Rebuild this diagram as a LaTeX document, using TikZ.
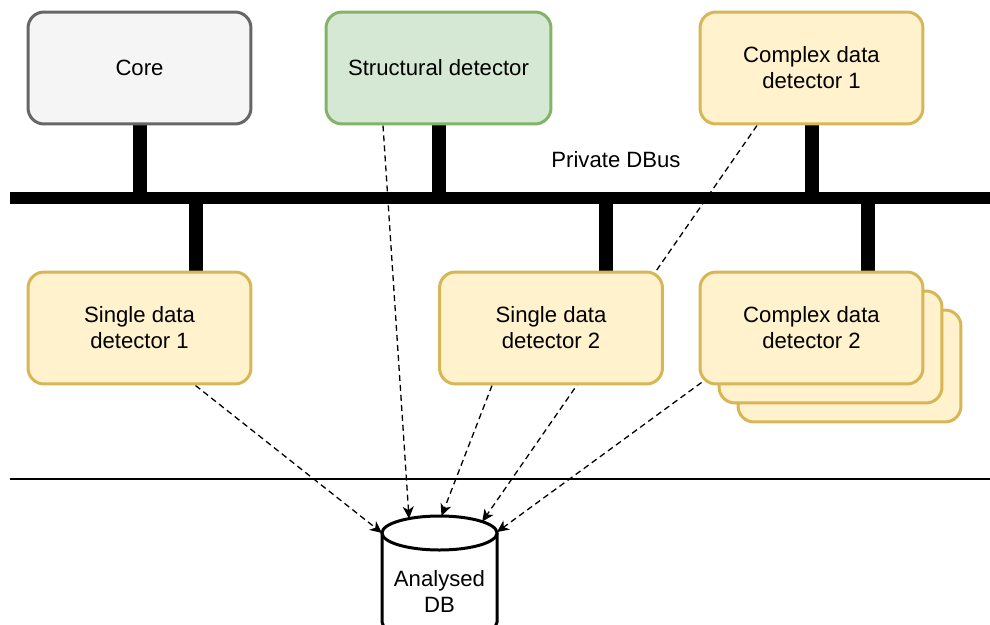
\documentclass[tikz,border=0pt]{standalone}
\usepackage{fontspec}
\setmainfont{Liberation Sans}
\usepackage{tikz}
\usetikzlibrary{positioning}
\usetikzlibrary{arrows.meta}
\usetikzlibrary{backgrounds}
\definecolor{coreFill}{HTML}{F5F5F5}
\definecolor{coreLine}{HTML}{666666}
\definecolor{structFill}{HTML}{D5E8D4}
\definecolor{structLine}{HTML}{82B366}
\definecolor{detFill}{HTML}{FFF2CC}
\definecolor{detLine}{HTML}{D6B656}
\tikzset{
    detector diagram/.style={
            x=0.02cm,y=0.02cm,
            font=\fontsize{12.6}{14.8}\selectfont,
            box/.style={rounded corners=0.32cm,line width=0.06cm,minimum width=4.46cm,minimum height=2.24cm,align=center},
            core box/.style={box,draw=coreLine,fill=coreFill},
            struct box/.style={box,draw=structLine,fill=structFill,minimum width=4.5cm},
            det box/.style={box,draw=detLine,fill=detFill},
            bus/.style={line width=0.26cm},
            tap/.style={line width=0.28cm},
            divider/.style={line width=0.03cm},
            flow/.style={-{Stealth[length=0.24cm,width=0.22cm,inset=0.07cm]},line width=0.026cm,dash pattern=on 0.12cm off 0.08cm},
            dbline/.style={line width=0.06cm,fill=white},
            dbtext/.style={align=center}
        }
    }

\begin{document}
\begin{tikzpicture}[detector diagram]
    \useasboundingbox (0,0) rectangle (990,-625);

    % detectors above the bus
    \node [core box] (core) at (139.5,-68) {Core};
    \node [struct box] (struct) at (438.5,-68) {Structural detector};
    \node [det box] (cdd1) at (811.5,-68) {Complex data\\detector 1};

    % detectors below the bus
    \node [det box] (sdd1) at (139.5,-328) {Single data\\detector 1};
    \node [det box] (sdd2) at (551,-328) {Single data\\detector 2};
    \node [det box] (cdd2c) at (849.5,-366) {};
    \node [det box] (cdd2b) at (830.5,-347) {};
    \node [det box] (cdd2) at (811.5,-328) {Complex data\\detector 2};

    \node (buslabel) at (616,-160) {Private DBus};

    \coordinate (busW) at (10,-198);
    \coordinate (busE) at (990,-198);
    \coordinate (divW) at (10,-479);
    \coordinate (divE) at (990,-479);
    \coordinate (sdd1up) at ([shift={(56,0)}]sdd1.north);
    \coordinate (sdd2up) at ([shift={(55,0)}]sdd2.north);
    \coordinate (cdd2up) at ([shift={(56.5,0)}]cdd2.north);

    % database
    \coordinate (dbtop) at (439.5,-533);
    \draw [dbline] ([shift={(-57.5,0)}]dbtop) -- ++(0,-89)
        arc [start angle=180,end angle=360,x radius=57.5,y radius=17]
        -- ([shift={(57.5,0)}]dbtop);
    \draw [dbline] (dbtop) ellipse [x radius=57.5,y radius=17];
    \node [dbtext] (db) at (439.5,-591) {Analysed\\DB};

    \coordinate (dbW) at ([shift={(180:57.5 and 17)}]dbtop);
    \coordinate (dbNW) at ([shift={(122:57.5 and 17)}]dbtop);
    \coordinate (dbN) at ([shift={(88:57.5 and 17)}]dbtop);
    \coordinate (dbNE) at ([shift={(42:57.5 and 17)}]dbtop);
    \coordinate (dbE) at ([shift={(3:57.5 and 17)}]dbtop);

    \begin{scope}[on background layer]
        \draw [flow] ([shift={(56,0)}]sdd1.south) -- (dbW);
        \draw [flow] ([shift={(-55.5,0)}]struct.south) -- (dbNW);
        \draw [flow] ([shift={(-59,0)}]sdd2.south) -- (dbN);
        \draw [flow] ([shift={(-54.5,0)}]cdd1.south) -- (dbNE);
        \draw [flow] ([shift={(3,3)}]cdd2.south west) -- (dbE);

        \draw [bus] (busW) -- (busE);
        \draw [tap] (core.south) -- (core.south |- busW);
        \draw [tap] (struct.south) -- (struct.south |- busW);
        \draw [tap] (cdd1.south) -- (cdd1.south |- busW);
        \draw [tap] (sdd1up) -- (sdd1up |- busW);
        \draw [tap] (sdd2up) -- (sdd2up |- busW);
        \draw [tap] (cdd2up) -- (cdd2up |- busW);
    \end{scope}

    \draw [divider] (divW) -- (divE);
\end{tikzpicture}
\end{document}
